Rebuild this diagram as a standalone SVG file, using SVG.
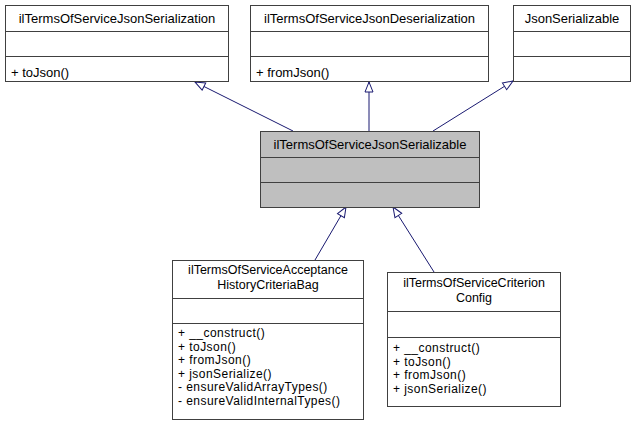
<svg xmlns="http://www.w3.org/2000/svg" width="635" height="427" viewBox="0 0 635 427">
<style>
.box{fill:#ffffff;stroke:#404040;stroke-width:1}
.gray{fill:#bfbfbf;stroke:#404040;stroke-width:1}
.sep{stroke:#404040;stroke-width:1}
text{font-family:"Liberation Sans",Arial,Helvetica,sans-serif;font-size:13px;fill:#000000}
.c{text-anchor:middle}
.t2{font-size:12.5px}
.m{font-size:12px;letter-spacing:0.45px}
.edge{fill:none;stroke:#191970;stroke-width:1}
</style>
<defs>
<marker id="inh" markerUnits="userSpaceOnUse" markerWidth="14" markerHeight="12" refX="11" refY="5" orient="auto">
<path d="M1,1 L11,5 L1,9 z" fill="#ffffff" stroke="#191970" stroke-width="1"/>
</marker>
</defs>
<rect width="635" height="427" fill="#ffffff"/>
<g id="edges">
<path class="edge" d="M293,131 L195,82" marker-end="url(#inh)"/>
<path class="edge" d="M369,131 L369,82" marker-end="url(#inh)"/>
<path class="edge" d="M433,131 L513,81" marker-end="url(#inh)"/>
<path class="edge" d="M315,260 L346,207" marker-end="url(#inh)"/>
<path class="edge" d="M434,272 L393,207" marker-end="url(#inh)"/>
</g>
<g id="node_serialization">
<rect class="box" x="5.5" y="5.5" width="223" height="76"/>
<line class="sep" x1="5.5" y1="31.5" x2="228.5" y2="31.5"/>
<line class="sep" x1="5.5" y1="56.5" x2="228.5" y2="56.5"/>
<text class="c" x="117" y="23">ilTermsOfServiceJsonSerialization</text>
<text x="11" y="77">+ toJson()</text>
</g>
<g id="node_deserialization">
<rect class="box" x="250.5" y="5.5" width="238" height="76"/>
<line class="sep" x1="250.5" y1="31.5" x2="488.5" y2="31.5"/>
<line class="sep" x1="250.5" y1="56.5" x2="488.5" y2="56.5"/>
<text class="c" x="369.5" y="23">ilTermsOfServiceJsonDeserialization</text>
<text x="256" y="77">+ fromJson()</text>
</g>
<g id="node_jsonserializable">
<rect class="box" x="513.5" y="5.5" width="117" height="76"/>
<line class="sep" x1="513.5" y1="31.5" x2="630.5" y2="31.5"/>
<line class="sep" x1="513.5" y1="56.5" x2="630.5" y2="56.5"/>
<text class="c" x="572" y="23">JsonSerializable</text>
</g>
<g id="node_central">
<rect class="gray" x="260.5" y="131.5" width="219" height="76"/>
<line class="sep" x1="260.5" y1="157.5" x2="479.5" y2="157.5"/>
<line class="sep" x1="260.5" y1="182.5" x2="479.5" y2="182.5"/>
<text class="c" x="370" y="149">ilTermsOfServiceJsonSerializable</text>
</g>
<g id="node_acceptance">
<rect class="box" x="172.5" y="260.5" width="191" height="159"/>
<line class="sep" x1="172.5" y1="298.5" x2="363.5" y2="298.5"/>
<line class="sep" x1="172.5" y1="323.5" x2="363.5" y2="323.5"/>
<text class="c t2" x="268" y="274">ilTermsOfServiceAcceptance</text>
<text class="c t2" x="268" y="288.5">HistoryCriteriaBag</text>
<text class="m" x="178" y="337">+ __construct()</text>
<text class="m" x="178" y="350.5">+ toJson()</text>
<text class="m" x="178" y="364">+ fromJson()</text>
<text class="m" x="178" y="377.5">+ jsonSerialize()</text>
<text class="m" x="178" y="391">- ensureValidArrayTypes()</text>
<text class="m" x="178" y="404.5">- ensureValidInternalTypes()</text>
</g>
<g id="node_criterion">
<rect class="box" x="387.5" y="272.5" width="173" height="134"/>
<line class="sep" x1="387.5" y1="311.5" x2="560.5" y2="311.5"/>
<line class="sep" x1="387.5" y1="337.5" x2="560.5" y2="337.5"/>
<text class="c t2" x="474" y="287">ilTermsOfServiceCriterion</text>
<text class="c t2" x="474" y="301.5">Config</text>
<text class="m" x="393" y="352">+ __construct()</text>
<text class="m" x="393" y="365.5">+ toJson()</text>
<text class="m" x="393" y="379">+ fromJson()</text>
<text class="m" x="393" y="392.5">+ jsonSerialize()</text>
</g>
</svg>
